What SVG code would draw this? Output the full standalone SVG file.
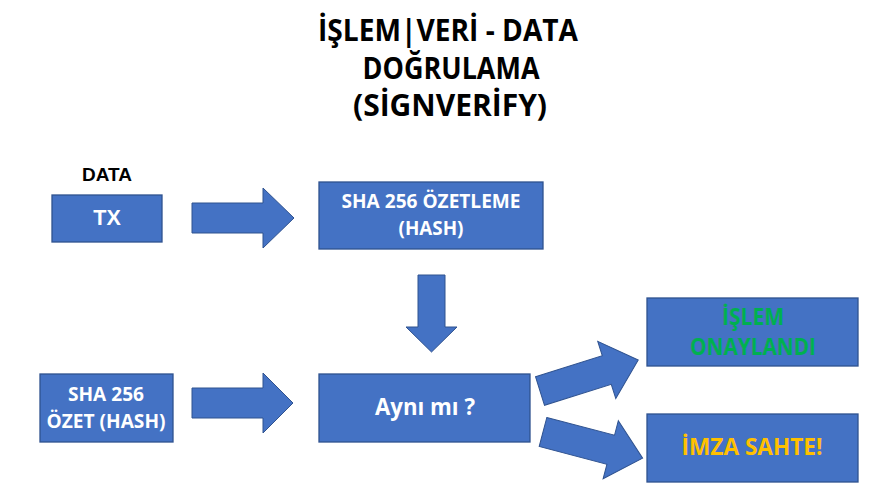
<svg xmlns="http://www.w3.org/2000/svg" width="894" height="503" viewBox="0 0 894 503">
<style>
.box{fill:#4472C4;stroke:#2F528F;stroke-width:1.3}
.arr{fill:#4472C4;stroke:#2F528F;stroke-width:1}
.t{font-family:"Open Sans","Noto Sans","Liberation Sans",sans-serif;font-weight:bold;text-anchor:middle}
.a{font-family:"Liberation Sans",Arial,sans-serif;font-weight:bold;text-anchor:middle}
.w{fill:#FFFFFF}
.k{fill:#000000}
</style>
<rect width="894" height="503" fill="#FFFFFF"/>
<g id="title">
<text class="t k" x="448" y="41" font-size="29.5" textLength="260" lengthAdjust="spacingAndGlyphs">İŞLEM|VERİ - DATA</text>
<text class="t k" x="451" y="79" font-size="29.5" textLength="177" lengthAdjust="spacingAndGlyphs">DOĞRULAMA</text>
<text class="t k" x="450" y="116" font-size="29.5" textLength="194" lengthAdjust="spacingAndGlyphs">(SİGNVERİFY)</text>
</g>
<g id="data-label">
<text class="a k" x="107" y="181" font-size="19">DATA</text>
</g>
<g id="node-tx">
<rect class="box" x="52" y="195" width="110" height="47"/>
<text class="a w" x="107" y="225" font-size="21.5">TX</text>
</g>
<g id="node-sha-hash">
<rect class="box" x="319" y="182" width="224" height="67"/>
<text class="t w" x="431" y="208" font-size="19.8" textLength="179" lengthAdjust="spacingAndGlyphs">SHA 256 ÖZETLEME</text>
<text class="t w" x="431" y="235" font-size="19.8" textLength="65" lengthAdjust="spacingAndGlyphs">(HASH)</text>
</g>
<g id="node-sha-ozet">
<rect class="box" x="40" y="374" width="133" height="68"/>
<text class="t w" x="106" y="401" font-size="19.8" textLength="76" lengthAdjust="spacingAndGlyphs">SHA 256</text>
<text class="t w" x="106" y="428" font-size="19.8" textLength="119" lengthAdjust="spacingAndGlyphs">ÖZET (HASH)</text>
</g>
<g id="node-ayni">
<rect class="box" x="319" y="374" width="211" height="68"/>
<text class="t w" x="425" y="415" font-size="23.8" textLength="100" lengthAdjust="spacingAndGlyphs">Aynı mı ?</text>
</g>
<g id="node-onay">
<rect class="box" x="647" y="298" width="211" height="68"/>
<text class="t" fill="#00B050" x="753" y="325" font-size="23" textLength="62" lengthAdjust="spacingAndGlyphs">İŞLEM</text>
<text class="t" fill="#00B050" x="753" y="355" font-size="23" textLength="126" lengthAdjust="spacingAndGlyphs">ONAYLANDI</text>
</g>
<g id="node-sahte">
<rect class="box" x="647" y="414" width="211" height="68"/>
<text class="t" fill="#FFC000" x="752" y="455" font-size="23" textLength="141" lengthAdjust="spacingAndGlyphs">İMZA SAHTE!</text>
</g>
<g id="connectors">
<polygon class="arr" points="192,203 263,203 263,188 294,218 263,248 263,233 192,233"/>
<polygon class="arr" points="418,275 445,275 445,327 457,327 431.5,352 406,327 418,327"/>
<polygon class="arr" points="192,388 263,388 263,373 293,403 263,433 263,418 192,418"/>
<polygon class="arr" transform="translate(540,391) rotate(-17.5)" points="0,-15 70,-15 70,-30 103,0 70,30 70,15 0,15"/>
<polygon class="arr" transform="translate(543,432) rotate(14.7)" points="0,-15 70,-15 70,-30 103,0 70,30 70,15 0,15"/>
</g>
</svg>
